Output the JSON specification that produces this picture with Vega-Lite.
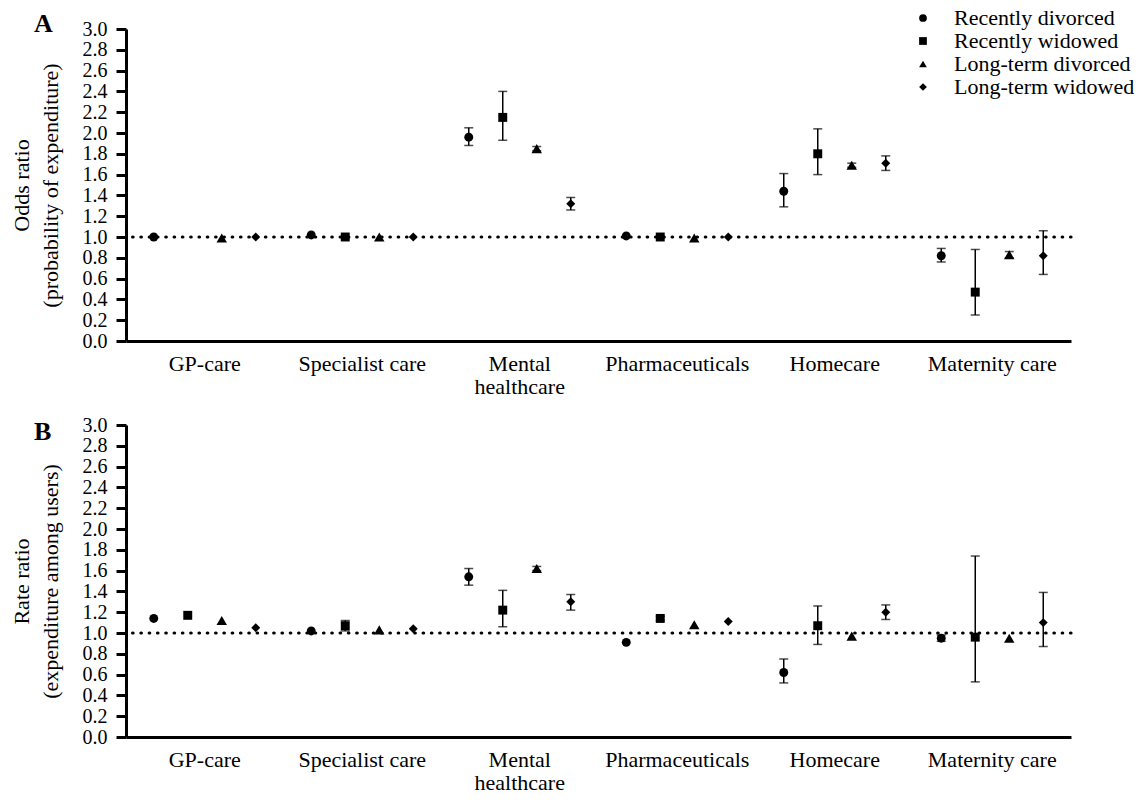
{
  "$schema": "https://vega.github.io/schema/vega-lite/v6.json",
  "padding": {"left": 10, "top": 7, "right": 5, "bottom": 2},
  "background": "white",
  "config": {
    "font": "Liberation Serif",
    "view": {"stroke": null},
    "axis": {"grid": false},
    "legend": {"labelFont": "Liberation Serif", "labelColor": "black"},
    "title": {"font": "Liberation Serif", "color": "black"}
  },
  "datasets": {
    "a": [
      {"category": "GP-care", "group": "Recently divorced", "value": 1.0, "lo": null, "hi": null},
      {"category": "GP-care", "group": "Long-term divorced", "value": 0.99, "lo": null, "hi": null},
      {"category": "GP-care", "group": "Long-term widowed", "value": 1.0, "lo": null, "hi": null},
      {"category": "Specialist care", "group": "Recently divorced", "value": 1.02, "lo": null, "hi": null},
      {"category": "Specialist care", "group": "Recently widowed", "value": 1.0, "lo": null, "hi": null},
      {"category": "Specialist care", "group": "Long-term divorced", "value": 1.0, "lo": null, "hi": null},
      {"category": "Specialist care", "group": "Long-term widowed", "value": 1.0, "lo": null, "hi": null},
      {"category": "Mental healthcare", "group": "Recently divorced", "value": 1.96, "lo": 1.88, "hi": 2.05},
      {"category": "Mental healthcare", "group": "Recently widowed", "value": 2.15, "lo": 1.93, "hi": 2.40},
      {"category": "Mental healthcare", "group": "Long-term divorced", "value": 1.85, "lo": 1.83, "hi": 1.87},
      {"category": "Mental healthcare", "group": "Long-term widowed", "value": 1.32, "lo": 1.26, "hi": 1.38},
      {"category": "Pharmaceuticals", "group": "Recently divorced", "value": 1.01, "lo": null, "hi": null},
      {"category": "Pharmaceuticals", "group": "Recently widowed", "value": 1.0, "lo": null, "hi": null},
      {"category": "Pharmaceuticals", "group": "Long-term divorced", "value": 0.99, "lo": null, "hi": null},
      {"category": "Pharmaceuticals", "group": "Long-term widowed", "value": 1.0, "lo": null, "hi": null},
      {"category": "Homecare", "group": "Recently divorced", "value": 1.44, "lo": 1.29, "hi": 1.61},
      {"category": "Homecare", "group": "Recently widowed", "value": 1.80, "lo": 1.60, "hi": 2.04},
      {"category": "Homecare", "group": "Long-term divorced", "value": 1.69, "lo": 1.67, "hi": 1.71},
      {"category": "Homecare", "group": "Long-term widowed", "value": 1.71, "lo": 1.64, "hi": 1.78},
      {"category": "Maternity care", "group": "Recently divorced", "value": 0.82, "lo": 0.76, "hi": 0.89},
      {"category": "Maternity care", "group": "Recently widowed", "value": 0.47, "lo": 0.25, "hi": 0.88},
      {"category": "Maternity care", "group": "Long-term divorced", "value": 0.83, "lo": 0.80, "hi": 0.86},
      {"category": "Maternity care", "group": "Long-term widowed", "value": 0.82, "lo": 0.64, "hi": 1.06}
    ],
    "b": [
      {"category": "GP-care", "group": "Recently divorced", "value": 1.14, "lo": null, "hi": null},
      {"category": "GP-care", "group": "Recently widowed", "value": 1.17, "lo": null, "hi": null},
      {"category": "GP-care", "group": "Long-term divorced", "value": 1.12, "lo": null, "hi": null},
      {"category": "GP-care", "group": "Long-term widowed", "value": 1.05, "lo": null, "hi": null},
      {"category": "Specialist care", "group": "Recently divorced", "value": 1.02, "lo": null, "hi": null},
      {"category": "Specialist care", "group": "Recently widowed", "value": 1.07, "lo": 1.02, "hi": 1.12},
      {"category": "Specialist care", "group": "Long-term divorced", "value": 1.03, "lo": null, "hi": null},
      {"category": "Specialist care", "group": "Long-term widowed", "value": 1.04, "lo": null, "hi": null},
      {"category": "Mental healthcare", "group": "Recently divorced", "value": 1.54, "lo": 1.46, "hi": 1.62},
      {"category": "Mental healthcare", "group": "Recently widowed", "value": 1.22, "lo": 1.06, "hi": 1.41},
      {"category": "Mental healthcare", "group": "Long-term divorced", "value": 1.62, "lo": 1.60, "hi": 1.64},
      {"category": "Mental healthcare", "group": "Long-term widowed", "value": 1.30, "lo": 1.22, "hi": 1.37},
      {"category": "Pharmaceuticals", "group": "Recently divorced", "value": 0.91, "lo": null, "hi": null},
      {"category": "Pharmaceuticals", "group": "Recently widowed", "value": 1.14, "lo": 1.12, "hi": 1.16},
      {"category": "Pharmaceuticals", "group": "Long-term divorced", "value": 1.08, "lo": null, "hi": null},
      {"category": "Pharmaceuticals", "group": "Long-term widowed", "value": 1.11, "lo": null, "hi": null},
      {"category": "Homecare", "group": "Recently divorced", "value": 0.62, "lo": 0.52, "hi": 0.75},
      {"category": "Homecare", "group": "Recently widowed", "value": 1.07, "lo": 0.89, "hi": 1.26},
      {"category": "Homecare", "group": "Long-term divorced", "value": 0.97, "lo": null, "hi": null},
      {"category": "Homecare", "group": "Long-term widowed", "value": 1.20, "lo": 1.13, "hi": 1.27},
      {"category": "Maternity care", "group": "Recently divorced", "value": 0.95, "lo": 0.92, "hi": 0.98},
      {"category": "Maternity care", "group": "Recently widowed", "value": 0.96, "lo": 0.53, "hi": 1.74},
      {"category": "Maternity care", "group": "Long-term divorced", "value": 0.95, "lo": null, "hi": null},
      {"category": "Maternity care", "group": "Long-term widowed", "value": 1.10, "lo": 0.87, "hi": 1.39}
    ]
  },
  "spacing": 18,
  "resolve": {"scale": {"shape": "independent"}, "legend": {"shape": "independent"}},
  "vconcat": [
    {
      "width": 945, "height": 312,
      "title": {"text": "A", "anchor": "start", "frame": "group", "dx": -92, "fontSize": 26, "fontWeight": "bold", "baseline": "alphabetic", "offset": -51},
      "data": {"name": "a"},
      "encoding": {
        "x": {
          "field": "category", "type": "nominal",
          "sort": ["GP-care", "Specialist care", "Mental healthcare", "Pharmaceuticals", "Homecare", "Maternity care"],
          "scale": {"domain": ["GP-care", "Specialist care", "Mental healthcare", "Pharmaceuticals", "Homecare", "Maternity care"], "paddingInner": 0, "paddingOuter": 0},
          "axis": {"title": null, "ticks": false, "labelAngle": 0, "labelFont": "Liberation Serif", "labelFontSize": 22, "labelColor": "black", "labelPadding": 12, "labelLineHeight": 23,
                   "domainColor": "black", "domainWidth": 3,
                   "labelExpr": "datum.label == 'Mental healthcare' ? ['Mental', 'healthcare'] : datum.label"}
        },
        "xOffset": {
          "field": "group", "type": "nominal", "sort": ["Recently divorced", "Recently widowed", "Long-term divorced", "Long-term widowed"],
          "scale": {"domain": ["Recently divorced", "Recently widowed", "Long-term divorced", "Long-term widowed"], "paddingInner": 0, "paddingOuter": 0.316}
        },
        "y": {
          "field": "value", "type": "quantitative",
          "scale": {"domain": [0, 3], "nice": false},
          "axis": {"title": ["Odds ratio", "(probability of expenditure)"], "titleFont": "Liberation Serif", "titleFontSize": 22, "titleFontWeight": "normal", "titleColor": "black", "titleLineHeight": 29, "titlePadding": 20,
                   "values": [0, 0.2, 0.4, 0.6, 0.8, 1.0, 1.2, 1.4, 1.6, 1.8, 2.0, 2.2, 2.4, 2.6, 2.8, 3.0],
                   "format": ".1f", "labelFont": "Liberation Serif", "labelFontSize": 20, "labelColor": "black", "labelPadding": 9, "labelOverlap": false, "labelFlush": false,
                   "tickSize": 10, "tickWidth": 3, "tickColor": "black", "domainColor": "black", "domainWidth": 3}
        }
      },
      "layer": [
        {
          "data": {"values": [{"ref": 1}]},
          "mark": {"type": "rule", "strokeDash": [0.5, 7.8], "strokeWidth": 3.2, "strokeCap": "round", "color": "black"},
          "encoding": {"x": null, "xOffset": null, "y": {"field": "ref", "type": "quantitative"}}
        },
        {
          "transform": [{"filter": "isValid(datum.lo)"}],
          "mark": {"type": "rule", "color": "black", "strokeWidth": 1.5},
          "encoding": {"y": {"field": "lo", "type": "quantitative"}, "y2": {"field": "hi"}}
        },
        {
          "transform": [{"filter": "isValid(datum.lo)"}],
          "mark": {"type": "tick", "color": "black", "size": 9, "thickness": 1.5},
          "encoding": {"y": {"field": "lo", "type": "quantitative"}}
        },
        {
          "transform": [{"filter": "isValid(datum.lo)"}],
          "mark": {"type": "tick", "color": "black", "size": 9, "thickness": 1.5},
          "encoding": {"y": {"field": "hi", "type": "quantitative"}}
        },
        {
          "transform": [{"filter": "datum.group != 'Long-term divorced'"}],
          "mark": {"type": "point", "filled": true, "color": "black", "opacity": 1, "size": 80},
          "encoding": {
            "shape": {
              "field": "group", "type": "nominal",
              "scale": {"domain": ["Recently divorced", "Recently widowed", "Long-term divorced", "Long-term widowed"], "range": ["circle", "square", "triangle-up", "diamond"]},
              "legend": {"title": null, "orient": "none", "legendX": 786, "legendY": -22, "labelFontSize": 22, "labelLimit": 0, "symbolSize": 60, "labelOffset": 20, "rowPadding": 1, "symbolFillColor": "black", "symbolStrokeColor": "black"}
            }
          }
        },
        {
          "transform": [{"filter": "datum.group == 'Long-term divorced'"}],
          "mark": {"type": "point", "filled": true, "color": "black", "opacity": 1, "size": 110},
          "encoding": {
            "shape": {
              "field": "group", "type": "nominal",
              "scale": {"domain": ["Recently divorced", "Recently widowed", "Long-term divorced", "Long-term widowed"], "range": ["circle", "square", "triangle-up", "diamond"]},
              "legend": {"title": null, "orient": "none", "legendX": 786, "legendY": -22, "labelFontSize": 22, "labelLimit": 0, "symbolSize": 60, "labelOffset": 20, "rowPadding": 1, "symbolFillColor": "black", "symbolStrokeColor": "black"}
            }
          }
        }
      ]
    },
    {
      "width": 945, "height": 312,
      "title": {"text": "B", "anchor": "start", "frame": "group", "dx": -92, "fontSize": 26, "fontWeight": "bold", "baseline": "alphabetic", "offset": -51},
      "data": {"name": "b"},
      "encoding": {
        "x": {
          "field": "category", "type": "nominal",
          "sort": ["GP-care", "Specialist care", "Mental healthcare", "Pharmaceuticals", "Homecare", "Maternity care"],
          "scale": {"domain": ["GP-care", "Specialist care", "Mental healthcare", "Pharmaceuticals", "Homecare", "Maternity care"], "paddingInner": 0, "paddingOuter": 0},
          "axis": {"title": null, "ticks": false, "labelAngle": 0, "labelFont": "Liberation Serif", "labelFontSize": 22, "labelColor": "black", "labelPadding": 12, "labelLineHeight": 23,
                   "domainColor": "black", "domainWidth": 3,
                   "labelExpr": "datum.label == 'Mental healthcare' ? ['Mental', 'healthcare'] : datum.label"}
        },
        "xOffset": {
          "field": "group", "type": "nominal", "sort": ["Recently divorced", "Recently widowed", "Long-term divorced", "Long-term widowed"],
          "scale": {"domain": ["Recently divorced", "Recently widowed", "Long-term divorced", "Long-term widowed"], "paddingInner": 0, "paddingOuter": 0.316}
        },
        "y": {
          "field": "value", "type": "quantitative",
          "scale": {"domain": [0, 3], "nice": false},
          "axis": {"title": ["Rate ratio", "(expenditure among users)"], "titleFont": "Liberation Serif", "titleFontSize": 22, "titleFontWeight": "normal", "titleColor": "black", "titleLineHeight": 29, "titlePadding": 20,
                   "values": [0, 0.2, 0.4, 0.6, 0.8, 1.0, 1.2, 1.4, 1.6, 1.8, 2.0, 2.2, 2.4, 2.6, 2.8, 3.0],
                   "format": ".1f", "labelFont": "Liberation Serif", "labelFontSize": 20, "labelColor": "black", "labelPadding": 9, "labelOverlap": false, "labelFlush": false,
                   "tickSize": 10, "tickWidth": 3, "tickColor": "black", "domainColor": "black", "domainWidth": 3}
        }
      },
      "layer": [
        {
          "data": {"values": [{"ref": 1}]},
          "mark": {"type": "rule", "strokeDash": [0.5, 7.8], "strokeWidth": 3.2, "strokeCap": "round", "color": "black"},
          "encoding": {"x": null, "xOffset": null, "y": {"field": "ref", "type": "quantitative"}}
        },
        {
          "transform": [{"filter": "isValid(datum.lo)"}],
          "mark": {"type": "rule", "color": "black", "strokeWidth": 1.5},
          "encoding": {"y": {"field": "lo", "type": "quantitative"}, "y2": {"field": "hi"}}
        },
        {
          "transform": [{"filter": "isValid(datum.lo)"}],
          "mark": {"type": "tick", "color": "black", "size": 9, "thickness": 1.5},
          "encoding": {"y": {"field": "lo", "type": "quantitative"}}
        },
        {
          "transform": [{"filter": "isValid(datum.lo)"}],
          "mark": {"type": "tick", "color": "black", "size": 9, "thickness": 1.5},
          "encoding": {"y": {"field": "hi", "type": "quantitative"}}
        },
        {
          "transform": [{"filter": "datum.group != 'Long-term divorced'"}],
          "mark": {"type": "point", "filled": true, "color": "black", "opacity": 1, "size": 80},
          "encoding": {
            "shape": {
              "field": "group", "type": "nominal",
              "scale": {"domain": ["Recently divorced", "Recently widowed", "Long-term divorced", "Long-term widowed"], "range": ["circle", "square", "triangle-up", "diamond"]},
              "legend": null
            }
          }
        },
        {
          "transform": [{"filter": "datum.group == 'Long-term divorced'"}],
          "mark": {"type": "point", "filled": true, "color": "black", "opacity": 1, "size": 110},
          "encoding": {
            "shape": {
              "field": "group", "type": "nominal",
              "scale": {"domain": ["Recently divorced", "Recently widowed", "Long-term divorced", "Long-term widowed"], "range": ["circle", "square", "triangle-up", "diamond"]},
              "legend": null
            }
          }
        }
      ]
    }
  ]
}
